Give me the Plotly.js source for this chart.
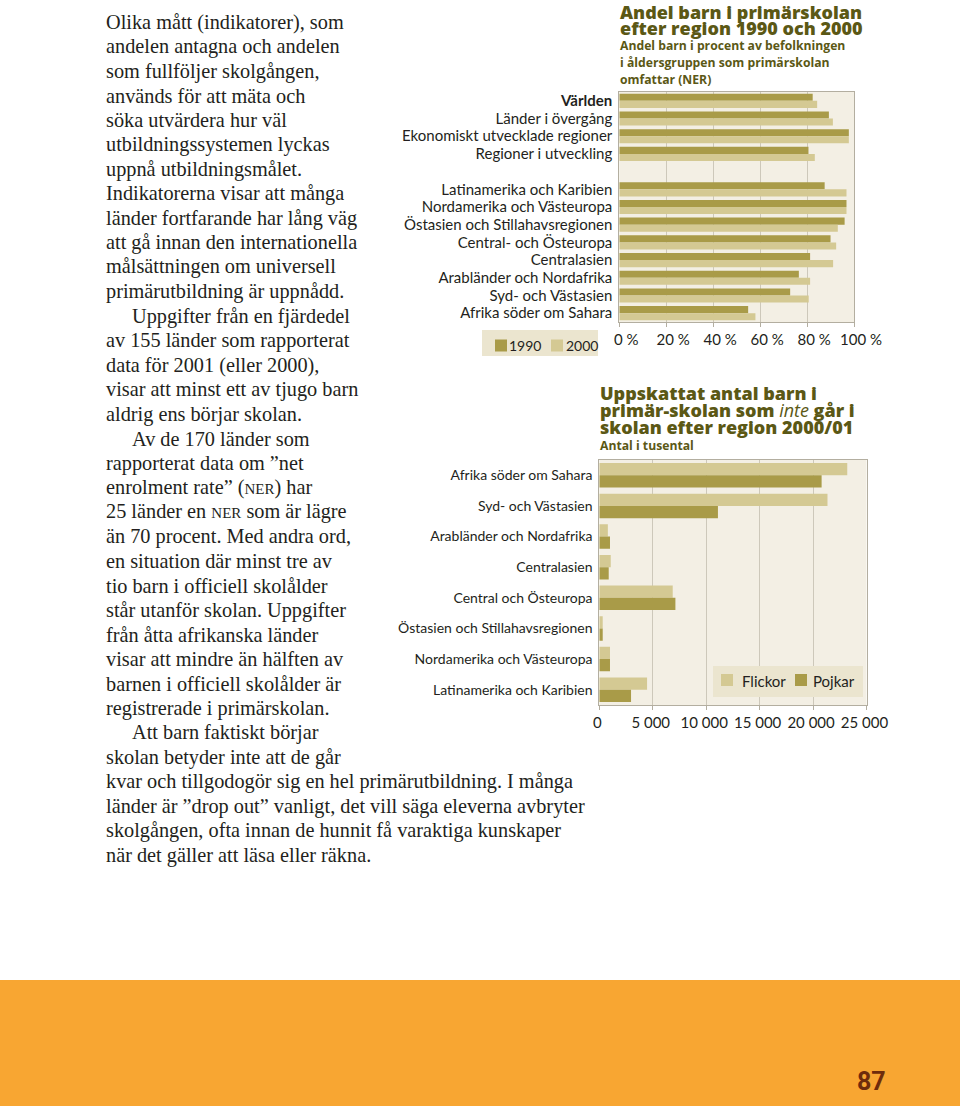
<!DOCTYPE html>
<html><head><meta charset="utf-8">
<script src="https://cdn.plot.ly/plotly-3.0.1.min.js"></script>
<style>html,body{margin:0;padding:0;background:#fff}#chart{width:960px;height:1106px}</style>
</head><body><div id="chart"></div>
<script>
// ---- Data: enrolment (NER) by region ----
const nerRegions = ['Världen','Länder i övergång','Ekonomiskt utvecklade regioner','Regioner i utveckling',' ',
  'Latinamerika och Karibien','Nordamerika och Västeuropa','Östasien och Stillahavsregionen','Central- och Östeuropa',
  'Centralasien','Arabländer och Nordafrika','Syd- och Västasien','Afrika söder om Sahara'];
const nerTickLabels = ['<b>Världen</b>','Länder i övergång','Ekonomiskt utvecklade regioner','Regioner i utveckling',' ',
  'Latinamerika och Karibien','Nordamerika och Västeuropa','Östasien och Stillahavsregionen','Central- och Östeuropa',
  'Centralasien','Arabländer och Nordafrika','Syd- och Västasien','Afrika söder om Sahara'];
const ner1990 = [82.4, 89.3, 97.8, 80.6, null, 87.5, 96.8, 96.0, 90.0, 81.3, 76.5, 72.8, 54.9];
const ner2000 = [84.3, 91.0, 97.8, 83.3, null, 96.8, 96.8, 93.1, 92.4, 91.1, 81.3, 80.7, 58.0];
const pctTicks = [0, 20, 40, 60, 80, 100];
const pctTickLabels = ['0 %', '20 %', '40 %', '60 %', '80 %', '100 %'];
const nerSeries = ['1990', '2000'];

// ---- Data: children out of school 2000/01 (thousands) ----
const outRegions = ['Afrika söder om Sahara','Syd- och Västasien','Arabländer och Nordafrika','Centralasien',
  'Central och Östeuropa','Östasien och Stillahavsregionen','Nordamerika och Västeuropa','Latinamerika och Karibien'];
const outGirls = [23200, 21350, 800, 1070, 6870, 320, 1000, 4470];
const outBoys  = [20800, 11100, 1000, 880, 7120, 320, 1000, 2970];
const countTicks = [0, 5000, 10000, 15000, 20000, 25000];
const countTickLabels = ['0', '5 000', '10 000', '15 000', '20 000', '25 000'];
const outSeries = ['Flickor', 'Pojkar'];

// ---- Body text ----
const bodyLines = [
  [0,'Olika mått (indikatorer), som'],
  [0,'andelen antagna och andelen'],
  [0,'som fullföljer skolgången,'],
  [0,'används för att mäta och'],
  [0,'söka utvärdera hur väl'],
  [0,'utbildningssystemen lyckas'],
  [0,'uppnå utbildningsmålet.'],
  [0,'Indikatorerna visar att många'],
  [0,'länder fortfarande har lång väg'],
  [0,'att gå innan den internationella'],
  [0,'målsättningen om universell'],
  [0,'primärutbildning är uppnådd.'],
  [1,'Uppgifter från en fjärdedel'],
  [0,'av 155 länder som rapporterat'],
  [0,'data för 2001 (eller 2000),'],
  [0,'visar att minst ett av tjugo barn'],
  [0,'aldrig ens börjar skolan.'],
  [1,'Av de 170 länder som'],
  [0,'rapporterat data om ”net'],
  [0,'enrolment rate” (<span style="font-size:15px">NER</span>) har'],
  [0,'25 länder en <span style="font-size:15px">NER</span> som är lägre'],
  [0,'än 70 procent. Med andra ord,'],
  [0,'en situation där minst tre av'],
  [0,'tio barn i officiell skolålder'],
  [0,'står utanför skolan. Uppgifter'],
  [0,'från åtta afrikanska länder'],
  [0,'visar att mindre än hälften av'],
  [0,'barnen i officiell skolålder är'],
  [0,'registrerade i primärskolan.'],
  [1,'Att barn faktiskt börjar'],
  [0,'skolan betyder inte att de går'],
  [0,'kvar och tillgodogör sig en hel primärutbildning. I många'],
  [0,'länder är ”drop out” vanligt, det vill säga eleverna avbryter'],
  [0,'skolgången, ofta innan de hunnit få varaktiga kunskaper'],
  [0,'när det gäller att läsa eller räkna.']
];

const W = 960, H = 1106;
const px = x => x / W;
const py = y => 1 - y / H;

const DARK = '#a99b48', LIGHT = '#d4c993', PLOTBG = '#f3efe4', GRID = '#cdc8ba', BORDER = '#b3aea0';
const LEGBG = '#ebe5cf';
const TITLE = '#5b5815', TXT = '#231f20';
const SANS = 'Lato, "Open Sans", sans-serif';
const HEAVY = '"Open Sans", "DejaVu Sans", sans-serif';
const SERIF = '"Liberation Serif", "DejaVu Serif", serif';

const traces = [
  {type:'bar', orientation:'h', name:nerSeries[0], y:nerRegions, x:ner1990, marker:{color:DARK},
   xaxis:'x', yaxis:'y', hoverinfo:'skip'},
  {type:'bar', orientation:'h', name:nerSeries[1], y:nerRegions, x:ner2000, marker:{color:LIGHT},
   xaxis:'x', yaxis:'y', hoverinfo:'skip'},
  {type:'bar', orientation:'h', name:outSeries[0], y:outRegions, x:outGirls, marker:{color:LIGHT},
   xaxis:'x2', yaxis:'y2', hoverinfo:'skip'},
  {type:'bar', orientation:'h', name:outSeries[1], y:outRegions, x:outBoys, marker:{color:DARK},
   xaxis:'x2', yaxis:'y2', hoverinfo:'skip'}
];

const annotations = [];
const shapes = [];
function ann(x, y, text, font, opts) {
  annotations.push(Object.assign({xref:'paper', yref:'paper', x:px(x), y:py(y), text:text, showarrow:false,
    xanchor:'left', yanchor:'middle', align:'left', font:font}, opts || {}));
}
function rect(x0, y0, x1, y1, color) {
  shapes.push({type:'rect', xref:'paper', yref:'paper', x0:px(x0), x1:px(x1), y0:py(y1), y1:py(y0),
    fillcolor:color, line:{width:0}, layer:'above'});
}
// body text
bodyLines.forEach((l, i) => {
  ann(l[0] ? 130 : 104, 22 + i * 24.5, l[1], {family:SERIF, size:20.3, color:TXT});
});
// chart 1 titles
const T1 = {family:HEAVY, size:18, color:TITLE, weight:800};
ann(618, 12, 'Andel barn i primärskolan', T1);
ann(618, 28, 'efter region 1990 och 2000', T1);
const S1 = {family:HEAVY, size:12.2, color:TITLE, weight:700};
ann(618, 46, 'Andel barn i procent av befolkningen', S1);
ann(618, 63, 'i åldersgruppen som primärskolan', S1);
ann(618, 80, 'omfattar (NER)', S1);
// chart 2 titles
ann(598, 393, 'Uppskattat antal barn i', T1);
ann(598, 410, 'primär-skolan som <i style="font-weight:400">inte</i> går i', T1);
ann(598, 427, 'skolan efter region 2000/01', T1);
ann(598, 445, 'Antal i tusental', S1);
// page number
ann(871, 1081, '87', {family:'Roboto, sans-serif', size:25, color:'#6e2c0c', weight:700}, {xanchor:'center'});

// legends (drawn as keys)
rect(482, 330, 598, 356, LEGBG);
rect(495, 339.5, 507, 351.5, DARK);
rect(551, 339.5, 563, 351.5, LIGHT);
ann(507, 345.5, nerSeries[0], {family:SANS, size:14, color:TXT});
ann(564, 345.5, nerSeries[1], {family:SANS, size:14, color:TXT});

rect(713, 666, 863, 697, LEGBG);
rect(721, 674, 733, 686, LIGHT);
rect(795, 674, 807, 686, DARK);
ann(740, 680.5, outSeries[0], {family:SANS, size:15, color:TXT});
ann(811, 680.5, outSeries[1], {family:SANS, size:15, color:TXT});

// orange band
shapes.push({type:'rect', xref:'paper', yref:'paper', x0:0, x1:1, y0:0, y1:py(980), fillcolor:'#f8a632', line:{width:0}, layer:'below'});

const layout = {
  width:W, height:H, margin:{l:0,r:0,t:0,b:0},
  paper_bgcolor:'#ffffff', plot_bgcolor:PLOTBG,
  barmode:'group', showlegend:false,
  font:{family:SANS, color:TXT, size:14},
  xaxis:{domain:[px(619.3), px(854)], range:[0,100], tickvals:pctTicks, ticktext:pctTickLabels,
    showgrid:true, gridcolor:GRID, gridwidth:1, zeroline:false, showline:true, mirror:true, linecolor:BORDER,
    ticks:'outside', ticklen:4, tickcolor:BORDER, ticklabelshift:7, tickfont:{size:15, family:SANS, color:TXT}, fixedrange:true},
  yaxis:{domain:[py(322), py(92)], type:'category', categoryorder:'array', categoryarray:nerRegions,
    tickvals:nerRegions, ticktext:nerTickLabels, autorange:'reversed', showgrid:false, showline:true, mirror:true, linecolor:BORDER,
    ticks:'', ticklabelstandoff:3, tickfont:{size:15, family:SANS, color:TXT}, fixedrange:true},
  xaxis2:{domain:[px(599.3), px(866.5)], range:[0,25000], tickvals:countTicks, ticktext:countTickLabels, anchor:'y2',
    showgrid:true, gridcolor:GRID, gridwidth:1, zeroline:false, showline:true, mirror:true, linecolor:BORDER,
    ticks:'outside', ticklen:4, tickcolor:BORDER, ticklabelshift:-2, tickfont:{size:15, family:SANS, color:TXT}, fixedrange:true},
  yaxis2:{domain:[py(705), py(460)], type:'category', categoryorder:'array', categoryarray:outRegions, anchor:'x2',
    autorange:'reversed', showgrid:false, showline:true, mirror:true, linecolor:BORDER,
    ticks:'', ticklabelstandoff:3, tickfont:{size:14, family:SANS, color:TXT}, fixedrange:true},
  bargap:0.2, bargroupgap:0,
  shapes:shapes,
  annotations:annotations
};

Plotly.newPlot('chart', traces, layout, {staticPlot:true, displayModeBar:false});
</script>
</body></html>
